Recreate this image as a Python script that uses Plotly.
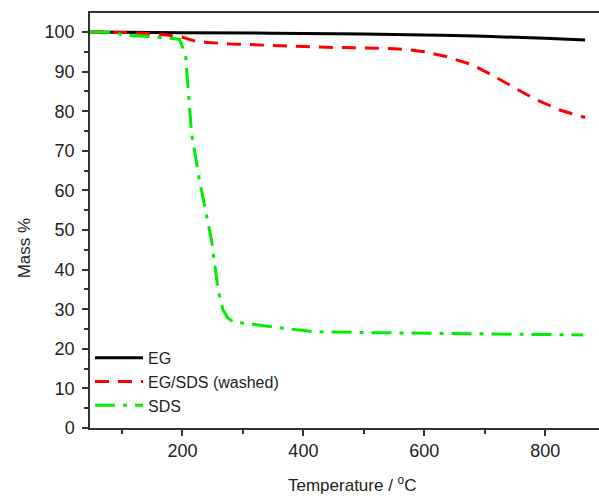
import plotly.graph_objects as go

# ---- data ----
eg_temp = [47, 100, 150, 200, 250, 300, 350, 400, 450, 500, 550, 600, 650, 700, 750, 800, 866]
eg_mass = [100, 100, 99.9, 99.8, 99.8, 99.7, 99.7, 99.6, 99.6, 99.5, 99.4, 99.3, 99.1, 98.9, 98.7, 98.4, 98.0]

egsds_temp = [47, 100, 150, 195, 225, 280, 350, 394, 450, 500, 550, 576, 600, 636, 680, 710, 736, 780, 824, 850, 866]
egsds_mass = [100, 99.9, 99.6, 98.9, 97.5, 97.0, 96.6, 96.3, 96.1, 96.0, 95.8, 95.5, 95.0, 93.8, 91.7, 89.3, 87.0, 83.3, 80.3, 79.1, 78.4]

sds_temp = [47, 90, 102, 150, 195, 205, 215, 229, 248, 259, 267, 275, 284, 300, 328, 388, 416, 504, 643, 863]
sds_mass = [100, 99.8, 99.2, 98.8, 98.2, 94.2, 74.4, 61.8, 47.5, 34.8, 29.8, 27.8, 26.8, 26.5, 26.0, 25.0, 24.3, 24.1, 23.9, 23.5]

x_ticks = [200, 400, 600, 800]
y_ticks = [0, 10, 20, 30, 40, 50, 60, 70, 80, 90, 100]

FONT = "Arial, Liberation Sans, sans-serif"

fig = go.Figure()
fig.add_trace(go.Scatter(x=eg_temp, y=eg_mass, mode="lines", name="EG",
                         line=dict(color="#000000", width=3)))
fig.add_trace(go.Scatter(x=egsds_temp, y=egsds_mass, mode="lines", name="EG/SDS (washed)",
                         line=dict(color="#ff0000", width=3, dash="14px,9px")))
fig.add_trace(go.Scatter(x=sds_temp, y=sds_mass, mode="lines", name="SDS",
                         line=dict(color="#00ee00", width=3, dash="20px,8px,4px,8px")))

fig.update_layout(
    width=604, height=498,
    margin=dict(l=90, r=0, t=13, b=70),
    plot_bgcolor="white", paper_bgcolor="white",
    font=dict(family=FONT, size=18, color="#222222"),
    showlegend=True,
    legend=dict(x=0.0, y=0.21, xanchor="left", yanchor="top",
                bgcolor="rgba(0,0,0,0)", font=dict(size=16, color="#222222"),
                tracegroupgap=0, itemwidth=48),
    xaxis=dict(range=[47, 897.3], tickvals=x_ticks, showgrid=False, zeroline=False,
               showline=True, linecolor="#333333", linewidth=1.5, mirror=True,
               ticks="outside", ticklen=6, tickwidth=1.5, tickcolor="#333333",
               ticklabelstandoff=0,
               minor=dict(tickvals=[100, 300, 500, 700], ticks="outside", ticklen=4,
                          tickwidth=1.5, tickcolor="#333333")),
    yaxis=dict(range=[0, 104.8], tickvals=y_ticks, showgrid=False, zeroline=False,
               showline=True, linecolor="#333333", linewidth=1.5,
               ticks="outside", ticklen=6, tickwidth=1.5, tickcolor="#333333",
               ticklabelstandoff=4,
               minor=dict(tickvals=[5, 15, 25, 35, 45, 55, 65, 75, 85, 95], ticks="outside",
                          ticklen=4, tickwidth=1.5, tickcolor="#333333")),
    annotations=[
        dict(text="Mass %", xref="paper", yref="paper", x=-0.1276, y=0.434,
             xanchor="center", yanchor="middle", textangle=-90, showarrow=False,
             font=dict(size=17, color="#222222")),
        dict(text="Temperature / <sup>o</sup>C", xref="paper", yref="paper", x=0.5116, y=-0.135,
             xanchor="center", yanchor="middle", showarrow=False,
             font=dict(size=17, color="#222222")),
    ],
)

fig.write_html("out.html", config={"displayModeBar": False},
               post_script="document.body.style.margin='0';document.body.style.overflow='hidden';")
